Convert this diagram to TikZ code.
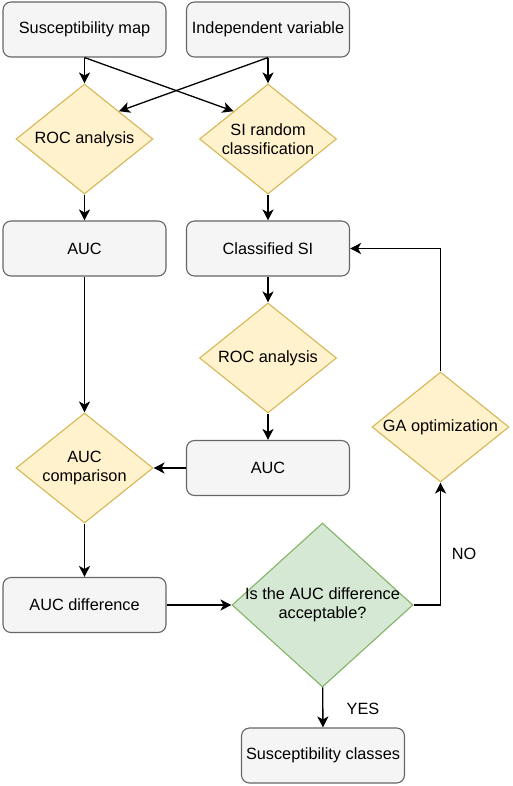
\documentclass[tikz,border=0pt]{standalone}
\usepackage{fontspec}
\setmainfont{Liberation Sans}
\usetikzlibrary{shapes.geometric,arrows.meta}
\definecolor{boxfill}{HTML}{F5F5F5}
\definecolor{boxline}{HTML}{666666}
\definecolor{testfill}{HTML}{FFF2CC}
\definecolor{testline}{HTML}{D6B656}
\definecolor{checkfill}{HTML}{D5E8D4}
\definecolor{checkline}{HTML}{82B366}
\begin{document}
\begin{tikzpicture}[x=1pt,y=-1pt,
    font=\fontsize{16.3}{18.7}\selectfont,
    box/.style={draw=boxline,fill=boxfill,rounded corners=8pt,minimum width=163pt,
      minimum height=55pt,inner sep=0pt,line width=1.1pt},
    test/.style={diamond,draw=testline,fill=testfill,aspect=1.245,minimum width=137pt,
      minimum height=110pt,inner sep=0pt,align=center,line width=1.1pt},
    check/.style={diamond,draw=checkline,fill=checkfill,aspect=1.1,minimum width=181pt,
      minimum height=164pt,inner sep=0pt,inner xsep=-10pt,align=center,line width=1.1pt}]
      \useasboundingbox (0,0) rectangle (512,786);
      \draw
        (84.5,29.5) node[box] (0){Susceptibility map}
        (268,29.5) node[box] (1){Independent variable}
        (84.5,139) node[test] (2){ROC analysis}
        (268,139) node[test] (3){SI random\\classification}
        (84.5,248.5) node[box] (4){AUC}
        (268,248.5) node[box] (5){Classified SI}
        (268,358) node[test] (6){ROC analysis}
        (84.5,468) node[test] (7){AUC\\comparison}
        (268,468) node[box] (8){AUC}
        (440.5,427) node[test] (9){GA optimization}
        (84.5,605) node[box] (10){AUC difference}
        (322.5,605) node[check] (11){Is the AUC difference\\acceptable?}
        (323,755.5) node[box] (12){Susceptibility classes}
        (464,554) node (no){NO}
        (363,709) node (yes){YES};
      \begin{scope}[-{Stealth[length=11pt,width=11pt,inset=3pt]},line width=1.3pt]
        \draw (0) to (2);
        \draw (0.south) to (3.north west);
        \draw (1.south) to (2.north east);
        \draw (1) to (3);
        \draw (2) to (4);
        \draw (3) to (5);
        \draw (5) to (6);
        \draw (6) to (8);
        \draw (4) to (7);
        \draw (8) to (7);
        \draw (7) to (10);
        \draw (10) to (11);
        \draw (11) to (12);
        \draw (11) -| (9);
        \draw (9) |- (5);
      \end{scope}
    \end{tikzpicture}
\end{document}
